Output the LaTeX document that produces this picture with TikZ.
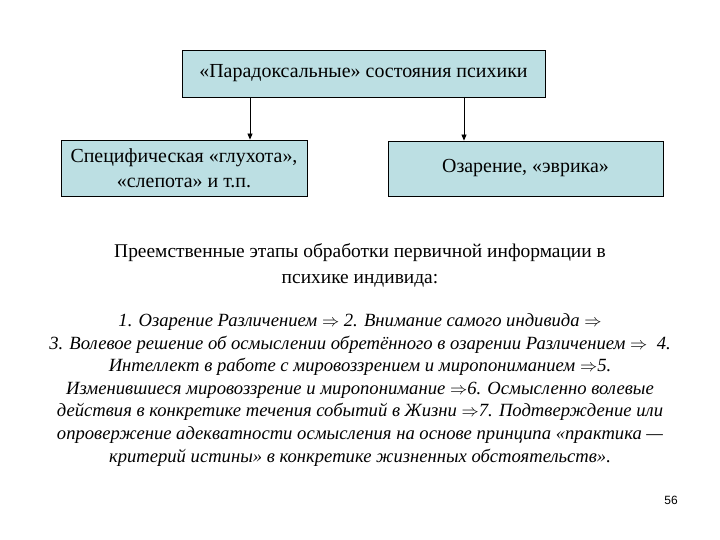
\documentclass[tikz,border=0pt]{standalone}
\usepackage{fontspec}
\setmainfont{Liberation Serif}
\newfontfamily\numfont{Liberation Sans}
\usetikzlibrary{arrows.meta}
\definecolor{boxfill}{HTML}{BCDFE3}
\tikzset{
  box/.style={draw=black, line width=0.8bp, fill=boxfill, align=center, inner sep=0pt,
    font=\fontsize{20}{25}\selectfont},
  link/.style={draw=black, line width=0.8bp, -{Triangle[length=6bp,width=5bp]}}
}
\begin{document}
\begin{tikzpicture}[x=1bp,y=-1bp]
\useasboundingbox (0,0) rectangle (720,540);
\node[box, minimum width=363bp, minimum height=47bp] (top) at (363.5,73.5) {«Парадоксальные» состояния психики};
\node[box, minimum width=246bp, minimum height=56bp] (left) at (184,168) {Специфическая «глухота»,\\«слепота» и т.п.};
\node[box, minimum width=275bp, minimum height=55bp] (right) at (525.5,168.5) {Озарение, «эврика»};
\coordinate (la) at (250,97);
\coordinate (ra) at (464,97);
\draw[link] (la) -- (la |- left.north);
\draw[link] (ra) -- (ra |- right.north);
\node[align=center, font=\fontsize{19.5}{26}\selectfont] (head) at (360,265) {Преемственные этапы обработки первичной информации в\\психике индивида:};
\node[align=center, font=\fontsize{18.7}{22.6}\selectfont\itshape] (body) at (360,390) {1. Озарение Различением $\Rightarrow$ 2. Внимание самого индивида $\Rightarrow$\\
3. Волевое решение об осмыслении обретённого в озарении Различением $\Rightarrow$~ 4.\\
Интеллект в работе с мировоззрением и миропониманием $\Rightarrow$5.\\
Изменившиеся мировоззрение и миропонимание $\Rightarrow$6. Осмысленно волевые\\
действия в конкретике течения событий в Жизни $\Rightarrow$7. Подтверждение или\\
опровержение адекватности осмысления на основе принципа «практика —\\
критерий истины» в конкретике жизненных обстоятельств».};
\node[font=\numfont\fontsize{12}{14}\selectfont] (num) at (671,500) {56};
\end{tikzpicture}
\end{document}
